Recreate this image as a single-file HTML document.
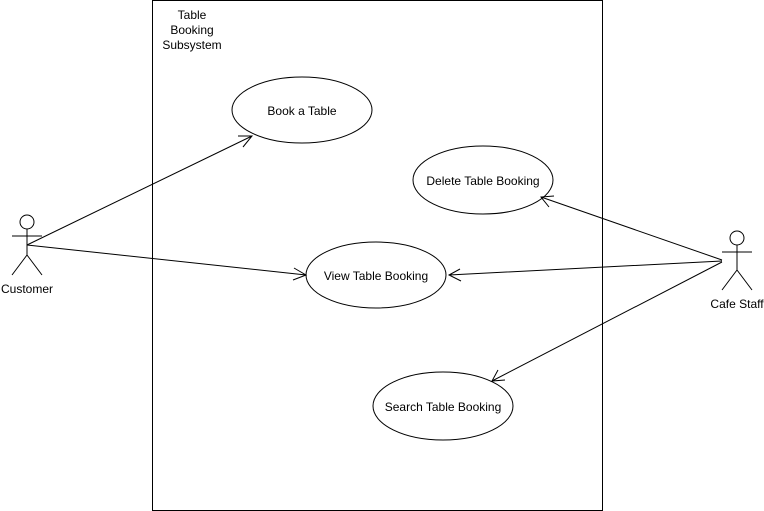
<!DOCTYPE html>
<html><head><style>body{margin:0;background:#fff}svg{display:block}</style></head><body>
<svg width="764" height="511" xmlns="http://www.w3.org/2000/svg" font-family="Liberation Sans, sans-serif" font-size="12">
<rect x="152.5" y="0.5" width="450" height="510" fill="#fff" stroke="#000"/>
<text x="192" y="19" text-anchor="middle">Table</text>
<text x="192" y="34" text-anchor="middle">Booking</text>
<text x="192" y="49" text-anchor="middle">Subsystem</text>
<g fill="#fff" stroke="#000">
<ellipse cx="302" cy="110" rx="70" ry="33"/>
<ellipse cx="483" cy="180" rx="70" ry="34"/>
<ellipse cx="376" cy="275" rx="70" ry="33"/>
<ellipse cx="443" cy="406" rx="70" ry="34"/>
</g>
<g text-anchor="middle">
<text x="302" y="115">Book a Table</text>
<text x="483" y="185">Delete Table Booking</text>
<text x="376" y="280">View Table Booking</text>
<text x="443" y="411">Search Table Booking</text>
</g>
<g fill="none" stroke="#000">
<circle cx="27" cy="222" r="7"/>
<path d="M27 229V255M12 236H42M27 255L12 275M27 255L42 275"/>
<circle cx="737" cy="238" r="7"/>
<path d="M737 245V270M722 252H752M737 270L722 290M737 270L752 290"/>
<path d="M27 245L252 136M238 136L252 136L243 147"/>
<path d="M27 245L306 275M294 268L306 275L293 280"/>
<path d="M722 260L541 197M549 207L541 197L554 196"/>
<path d="M722 261L449 275M460 269L449 275L461 281"/>
<path d="M722 262L492 381M498 370L492 381L505 380"/>
</g>
<text x="27" y="293" text-anchor="middle">Customer</text>
<text x="737" y="308" text-anchor="middle">Cafe Staff</text>
</svg>
</body></html>
